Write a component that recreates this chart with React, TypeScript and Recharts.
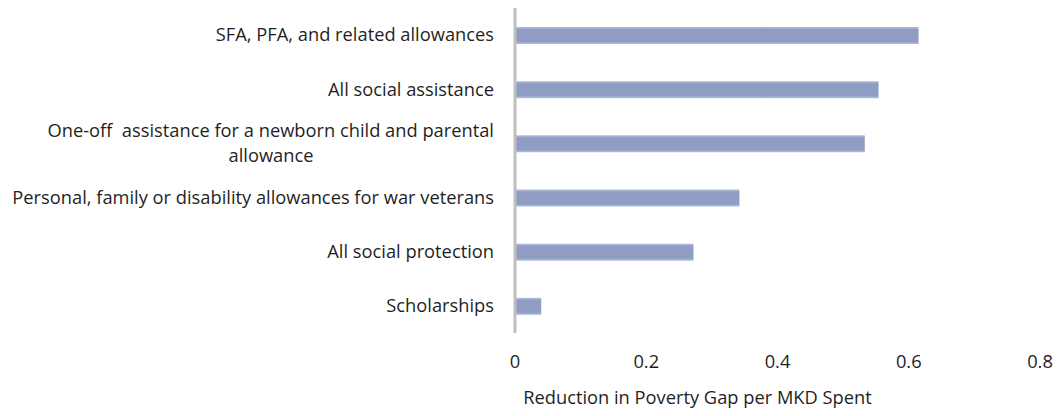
import React from "react";
import { BarChart, Bar, XAxis, YAxis } from "recharts";

const categories = [
  "SFA, PFA, and related allowances",
  "All social assistance",
  "One-off  assistance for a newborn child and parental|allowance",
  "Personal, family or disability allowances for war veterans",
  "All social protection",
  "Scholarships",
];
const values = [0.615, 0.554, 0.533, 0.342, 0.272, 0.04];
const xTicks = [0, 0.2, 0.4, 0.6, 0.8];
const xTickLabels = ["0", "0.2", "0.4", "0.6", "0.8"];
const axisTitle = "Reduction in Poverty Gap per MKD Spent";

const data = categories.map((name, i) => ({ name, value: values[i] }));

const FONT = "'Open Sans', sans-serif";
const FS = 18.3;
const TEXT = "#1f1f1f";

const YTick = (props: any) => {
  const { x, y, payload } = props;
  const lines = String(payload.value).split("|");
  const tx = x - 21;
  const common = { fontFamily: FONT, fontSize: FS, fill: TEXT, style: { whiteSpace: "pre" as const } };
  if (lines.length === 1) {
    return (
      <text x={tx} y={y} dy="0.35em" textAnchor="end" {...common}>
        {lines[0]}
      </text>
    );
  }
  return (
    <g>
      <text x={tx} y={y - 13} dy="0.35em" textAnchor="end" {...common}>
        {lines[0]}
      </text>
      <text x={tx - 223} y={y + 12.5} dy="0.35em" textAnchor="middle" {...common}>
        {lines[1]}
      </text>
    </g>
  );
};

const XTick = (props: any) => {
  const { x, y, payload, index } = props;
  return (
    <text x={x} y={y} dy={35} textAnchor="middle" fontFamily={FONT} fontSize={FS} fill={TEXT}>
      {xTickLabels[index] ?? String(payload.value)}
    </text>
  );
};

export default function App() {
  return (
    <div style={{ position: "absolute", left: 0, top: 0, background: "#fff" }}>
      <BarChart
        width={1058}
        height={416}
        data={data}
        layout="vertical"
        margin={{ top: 8, right: 18, left: 0, bottom: 0 }}
      >
        <defs>
          <linearGradient id="barFill" x1="0" y1="0" x2="0" y2="1">
            <stop offset="0%" stopColor="#b4c0df" />
            <stop offset="15%" stopColor="#8f9dc5" />
            <stop offset="85%" stopColor="#8f9dc5" />
            <stop offset="100%" stopColor="#b4c0df" />
          </linearGradient>
        </defs>
        <XAxis
          type="number"
          domain={[0, 0.8]}
          ticks={xTicks}
          axisLine={false}
          tickLine={false}
          tickSize={0}
          tickMargin={0}
          height={83}
          tick={<XTick />}
          interval={0}
          label={{
            value: axisTitle,
            position: "insideBottom",
            offset: 12,
            dx: -80,
            fontFamily: FONT,
            fontSize: FS,
            fill: TEXT,
          }}
        />
        <YAxis
          type="category"
          dataKey="name"
          width={515}
          axisLine={{ stroke: "#bfbfbf", strokeWidth: 3 }}
          tickLine={false}
          tickSize={0}
          tickMargin={0}
          tick={<YTick />}
          interval={0}
        />
        <Bar dataKey="value" barSize={17} fill="url(#barFill)" isAnimationActive={false} />
      </BarChart>
    </div>
  );
}
